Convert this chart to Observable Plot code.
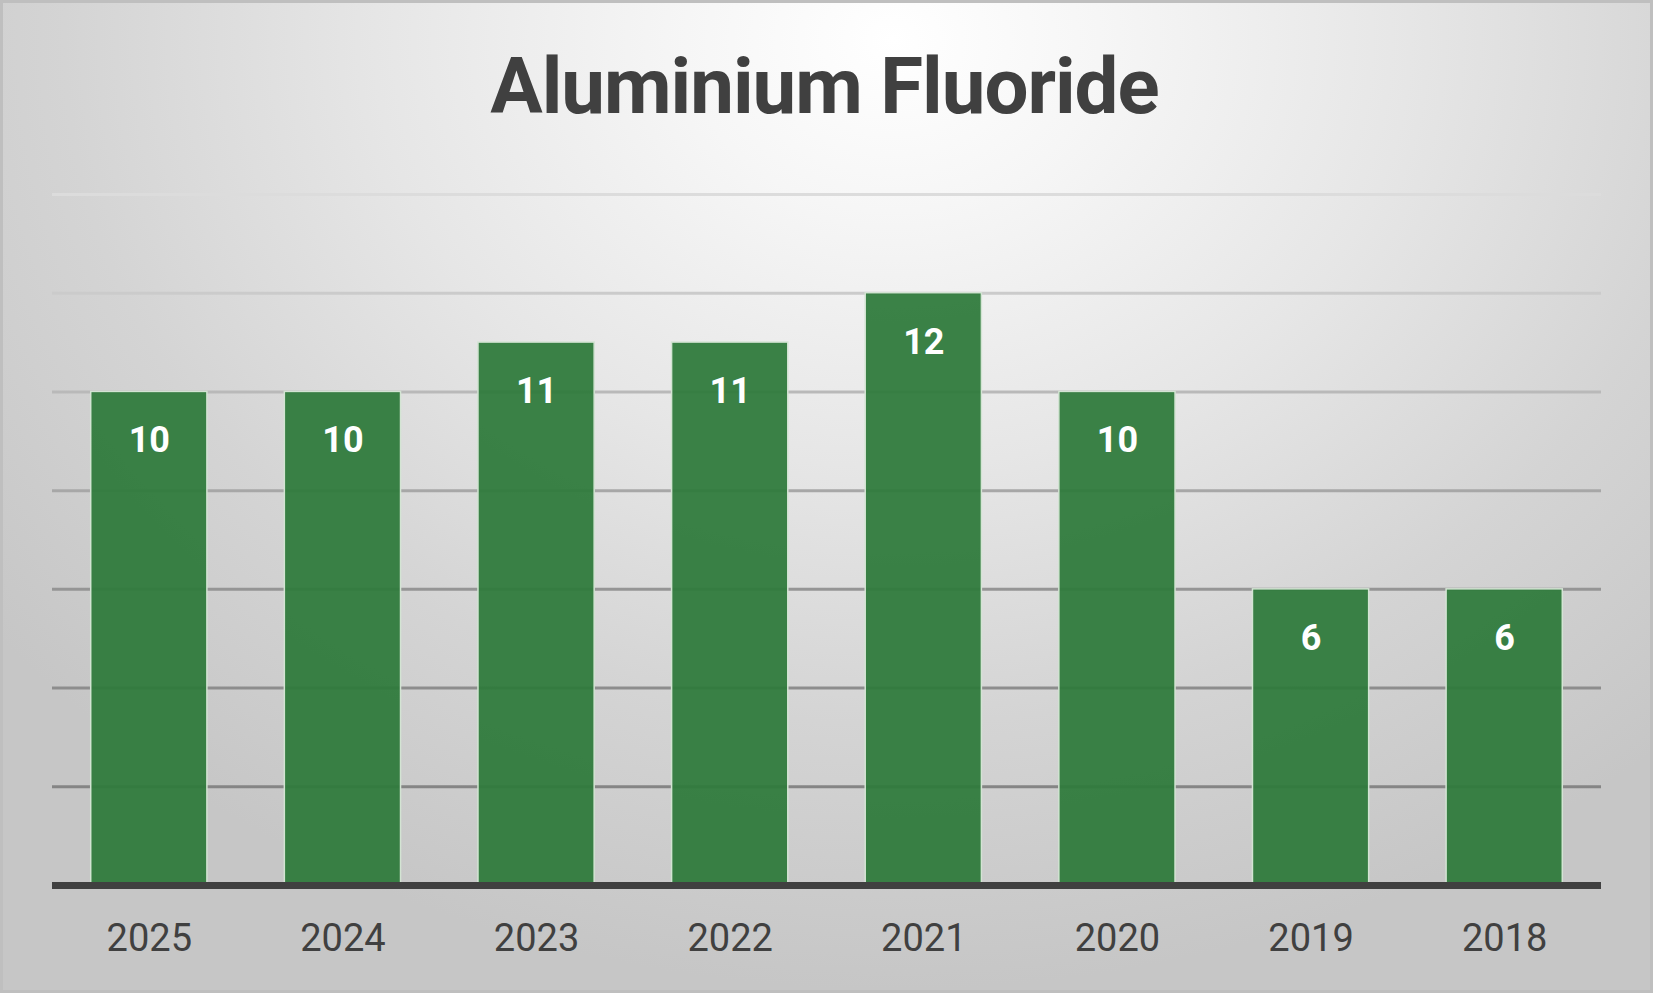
<!DOCTYPE html>
<html>
<head>
<meta charset="utf-8">
<script src="https://cdn.jsdelivr.net/npm/d3@7"></script>
<script src="https://cdn.jsdelivr.net/npm/@observablehq/plot@0.6"></script>
<style>
  html, body { margin: 0; padding: 0; }
  #chart {
    position: relative;
    width: 1653px; height: 993px; overflow: hidden;
    background: radial-gradient(ellipse 1150px 950px at 54% 4%, #ffffff 0%, #f6f6f6 18%, #e6e6e6 45%, #d4d4d4 72%, #c6c6c6 100%);
    box-shadow: inset 0 0 0 3px #bfbfbf;
    font-family: Roboto, "Noto Sans", sans-serif;
  }
  #title {
    position: absolute; left: 0; top: 0; width: 1653px; height: 170px;
    display: flex; align-items: center; justify-content: center;
  }
  #title span {
    font-family: Roboto, sans-serif; font-weight: 700; font-size: 78px;
    color: #404040; letter-spacing: -1px; display: inline-block;
    position: relative; top: 1px; left: -2px;
  }
  #plot { position: absolute; left: 0; top: 170px; }
</style>
</head>
<body>
<div id="chart">
  <div id="title"><span>Aluminium Fluoride</span></div>
  <div id="plot"></div>
</div>
<script>
const years = ["2025", "2024", "2023", "2022", "2021", "2020", "2019", "2018"];
const values = [10, 10, 11, 11, 12, 10, 6, 6];
const gridTicks = [2, 4, 6, 8, 10, 12, 14];

const data = years.map((y, i) => ({year: y, value: values[i]}));
const gridColor = d3.scaleLinear().domain([2, 6, 10, 14]).range(["#858585", "#959595", "#b9b9b9", "#dcdcdc"]);

const chart = Plot.plot({
  width: 1653,
  height: 823,
  marginTop: 24,
  marginBottom: 108,
  marginLeft: 52,
  marginRight: 52,
  style: {background: "transparent", fontFamily: "Roboto, 'Noto Sans', sans-serif", overflow: "visible"},
  x: {domain: years, paddingInner: 0.4, paddingOuter: 0.2, round: false, label: null},
  y: {domain: [0, 14], axis: null},
  marks: [
    Plot.ruleY(gridTicks, {y: d => d, stroke: d => gridColor(d), strokeWidth: 3}),
    Plot.barY(data, {x: "year", y: "value", fill: "#2f7a3b", fillOpacity: 0.94, stroke: "#d3e4d3", strokeWidth: 1.5}),
    Plot.ruleY([0], {stroke: "#404040", strokeWidth: 7}),
    Plot.text(data, {x: "year", y: "value", text: d => String(d.value), dy: 49, fill: "white", fontSize: 36, fontWeight: 700}),
    Plot.axisX({tickSize: 0, tickPadding: 39, fontSize: 38, fill: "#404040", label: null})
  ]
});
document.getElementById("plot").appendChild(chart);
</script>
</body>
</html>
